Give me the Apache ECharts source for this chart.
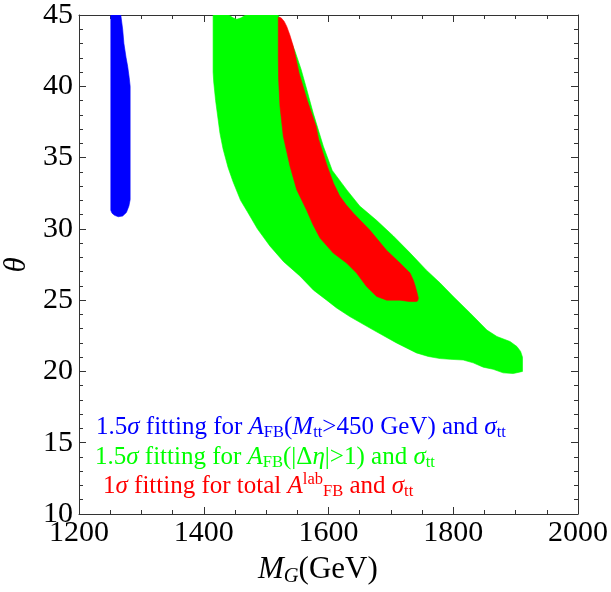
<!DOCTYPE html>
<html><head><meta charset="utf-8">
<script src="https://cdn.jsdelivr.net/npm/echarts@6/dist/echarts.min.js"></script>
<style>html,body{margin:0;padding:0;background:#fff}#c{width:611px;height:592px}</style>
</head><body><div id="c"></div>
<script>
// Axis ranges / ticks
const xRange = [1200, 2000];
const yRange = [10, 45];
const xStep = 200;
const yStep = 5;

// Region boundaries (M_G in GeV, theta in degrees)
const blueRegion = [[1251,45],[1267,45],[1270,44],[1272,43],[1275.5,42],[1278,41.4],[1280.5,40.6],[1282,40],[1282,32.05],[1280,31.6],[1276,31.15],[1270,30.9],[1263,30.85],[1257,30.95],[1253,31.1],[1251,31.3]];

const greenRegion = [[1415,45],[1440,45],[1447,44.8],[1453,44.7],[1460,44.8],[1467,45],[1519,45],[1527,44.4],[1536,43.5],[1546,42.5],[1556,41.2],[1565,39.8],[1575.6,38.1],[1591.7,35.8],[1606,34.1],[1629,32.75],[1650,31.6],[1677,30.6],[1704,29.5],[1731,28.3],[1757,27.1],[1779,26.2],[1800,25.26],[1827,24.1],[1854,22.9],[1870,22.45],[1891,22.1],[1902,21.75],[1908,21.4],[1911,21.0],[1911,20.0],[1906,19.95],[1896,19.85],[1880,19.9],[1864,20.15],[1848,20.3],[1832,20.6],[1816,20.8],[1795,20.85],[1779,20.9],[1760,21.05],[1741,21.3],[1709,22.0],[1672,22.9],[1634,23.85],[1613,24.45],[1597,25.0],[1576,25.7],[1554,26.7],[1528,27.7],[1506,28.8],[1486,30.0],[1470,31.2],[1459,32.0],[1447,33.3],[1439,34.3],[1431,35.6],[1426,36.7],[1419,39.0],[1416,40.3],[1415,41.0]];

const redRegion = [[1519.5,44.85],[1524,44.8],[1529,44.55],[1533,44.2],[1538,43.6],[1543.6,42.8],[1553,40.9],[1566,39.0],[1580,37.2],[1584,36.3],[1598,34.4],[1608,33.2],[1618,32.3],[1628,31.7],[1640,31.1],[1666.5,29.9],[1693,28.5],[1714.6,27.6],[1730.7,26.9],[1736,26.4],[1739,26.0],[1742,25.5],[1744,25.15],[1743,24.95],[1741,24.9],[1730,24.9],[1714.6,25.0],[1693.3,25.0],[1677.3,25.26],[1661,25.96],[1645,26.9],[1629,27.6],[1607.7,28.3],[1586.4,29.35],[1575,30.3],[1565,31.3],[1549,32.75],[1538.3,34.4],[1527.5,36.5],[1522.2,38.6],[1520,40.5],[1519.5,42]];

// Legend lines (rich text)
const legendLines = [
  '{n|1.5}{i|σ}{n| fitting for }{i|A}{sub|FB}{n|(}{i|M}{sub|tt}{n|>450 GeV) and }{i|σ}{sub|tt}',
  '{n|1.5}{i|σ}{n| fitting for }{i|A}{sub|FB}{n|(|Δ}{i|η}{n||>1) and }{i|σ}{sub|tt}',
  '{n|1}{i|σ}{n| fitting for total }{i|A}{sup|lab}{sub|FB}{n| and }{i|σ}{sub|tt}'
];
const legendColors = ['#0000ff', '#00ff00', '#ff0000'];

const SERIF = '"Liberation Serif", "DejaVu Serif", serif';
const chart = echarts.init(document.getElementById('c'));

function regionSeries(name, pts, color) {
  return {
    type: 'custom', name: name, coordinateSystem: 'cartesian2d',
    xAxisIndex: 0, yAxisIndex: 0, silent: true, clip: true,
    data: pts, encode: {x: 0, y: 1},
    renderItem: function (params, api) {
      if (params.dataIndex !== 0) return null;
      const points = pts.map(p => api.coord(p));
      return {type: 'polygon', shape: {points: points},
              style: {fill: color, stroke: color, lineWidth: 0.6}};
    }
  };
}

function richStyles(color, fs) {
  return {
    n: {fontFamily: SERIF, fontSize: fs, fill: color},
    i: {fontFamily: SERIF, fontSize: fs, fontStyle: 'italic', fill: color},
    sub: {fontFamily: SERIF, fontSize: fs * 0.66, fill: color, padding: [fs * 0.45, 0, 0, 0]},
    isub: {fontFamily: SERIF, fontSize: fs * 0.66, fontStyle: 'italic', fill: color, padding: [fs * 0.45, 0, 0, 0]},
    sup: {fontFamily: SERIF, fontSize: fs * 0.66, fill: color, padding: [0, 0, fs * 0.5, 0]}
  };
}

const axisCol = '#333';
function xAx(pos, showLabel) {
  return {
    type: 'value', min: xRange[0], max: xRange[1], interval: xStep, position: pos,
    axisLine: {show: true, onZero: false, lineStyle: {color: axisCol, width: 1}},
    axisTick: {show: true, inside: true, length: 7, lineStyle: {color: axisCol}},
    minorTick: {show: true, splitNumber: 4, length: 4, lineStyle: {color: axisCol}},
    splitLine: {show: false},
    axisLabel: {show: showLabel, fontFamily: SERIF, fontSize: 30, color: '#000', margin: 4,
                formatter: v => String(v)}
  };
}
function yAx(pos, showLabel) {
  return {
    type: 'value', min: yRange[0], max: yRange[1], interval: yStep, position: pos,
    axisLine: {show: true, onZero: false, lineStyle: {color: axisCol, width: 1}},
    axisTick: {show: true, inside: true, length: 7, lineStyle: {color: axisCol}},
    minorTick: {show: true, splitNumber: 5, length: 4, lineStyle: {color: axisCol}},
    splitLine: {show: false},
    axisLabel: {show: showLabel, fontFamily: SERIF, fontSize: 30, color: '#000', margin: 6,
                formatter: v => String(v)}
  };
}

const graphics = legendLines.map((t, k) => ({
  type: 'text', x: [96, 95, 103][k], y: [427, 457, 486][k],
  style: {text: t, rich: richStyles(legendColors[k], 25), verticalAlign: 'middle', align: 'left'},
  z: 100
}));
graphics.push({
  type: 'text', x: 258, y: 570,
  style: {text: '{i|M}{isub|G}{n|(GeV)}', rich: richStyles('#000', 31), verticalAlign: 'middle', align: 'left'}
});
graphics.push({
  type: 'text', x: 17, y: 265, rotation: Math.PI / 2,
  style: {text: 'θ', fontFamily: SERIF, fontSize: 31, fontStyle: 'italic', fill: '#000', align: 'center', verticalAlign: 'middle'}
});

chart.setOption({
  animation: false,
  backgroundColor: '#fff',
  grid: {left: 79, right: 33, top: 15, bottom: 78},
  xAxis: [xAx('bottom', true), xAx('top', false)],
  yAxis: [yAx('left', true), yAx('right', false)],
  series: [
    regionSeries('green', greenRegion, '#00ff00'),
    regionSeries('red', redRegion, '#ff0000'),
    regionSeries('blue', blueRegion, '#0000ff')
  ],
  graphic: graphics
});
</script>
</body></html>
